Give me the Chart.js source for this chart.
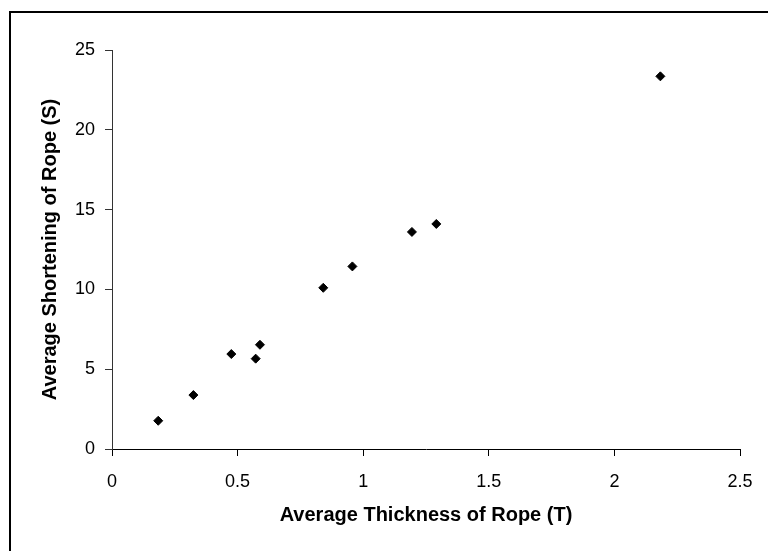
<!DOCTYPE html>
<html>
<head>
<meta charset="utf-8">
<script src="https://cdn.jsdelivr.net/npm/chart.js@4"></script>
<style>
  html, body { margin: 0; padding: 0; background: #fff; overflow: hidden; }
  #wrap { position: relative; width: 768px; height: 551px; }
  #frame { position: absolute; left: 9px; top: 11px; width: 800px; height: 600px; border: 2px solid #000; box-sizing: border-box; pointer-events: none; }
  canvas { position: absolute; left: 0; top: 0; }
</style>
</head>
<body>
<div id="wrap">
  <canvas id="c" width="768" height="551"></canvas>
  <div id="frame"></div>
</div>
<script>
const thickness = [0.184, 0.324, 0.475, 0.572, 0.589, 0.841, 0.957, 1.194, 1.291, 2.183];
const shortening = [1.77, 3.38, 5.95, 5.66, 6.53, 10.1, 11.44, 13.6, 14.1, 23.35];
const xTitle = 'Average Thickness of Rope (T)';
const yTitle = 'Average Shortening of Rope (S)';

const points = thickness.map((t, i) => ({ x: t, y: shortening[i] }));
const FONT = '"Liberation Sans", Arial, sans-serif';

new Chart(document.getElementById('c'), {
  type: 'scatter',
  data: {
    datasets: [{
      data: points,
      pointStyle: 'rectRot',
      pointRadius: 4.5,
      pointHoverRadius: 4.5,
      backgroundColor: '#000',
      borderColor: '#000',
      borderWidth: 1
    }]
  },
  options: {
    responsive: false,
    animation: false,
    events: [],
    layout: { padding: { top: 50, right: 28, left: 38, bottom: 24 } },
    plugins: { legend: { display: false }, tooltip: { enabled: false } },
    scales: {
      x: {
        type: 'linear',
        min: 0, max: 2.5,
        ticks: { stepSize: 0.5, color: '#000', font: { family: FONT, size: 18 }, padding: 15, callback: (v) => String(v) },
        grid: { drawOnChartArea: false, drawTicks: true, tickLength: 7, color: '#000' },
        border: { color: '#000', width: 1 },
        title: { display: true, text: xTitle, color: '#000', font: { family: FONT, size: 20, weight: 'bold' }, padding: { top: 0, bottom: 0 } },
        afterFit: (s) => { s.height = 551 - 24 - 449; }
      },
      y: {
        type: 'linear',
        min: 0, max: 25,
        ticks: { stepSize: 5, color: '#000', font: { family: FONT, size: 18 }, padding: 10, callback: (v) => String(v) },
        grid: { drawOnChartArea: false, drawTicks: true, tickLength: 7, color: '#333' },
        border: { color: '#333', width: 1 },
        title: { display: true, text: yTitle, color: '#000', font: { family: FONT, size: 20, weight: 'bold' }, padding: { top: 0, bottom: 0 } },
        afterFit: (s) => { s.width = 112 - 38; }
      }
    }
  }
});
</script>
</body>
</html>
